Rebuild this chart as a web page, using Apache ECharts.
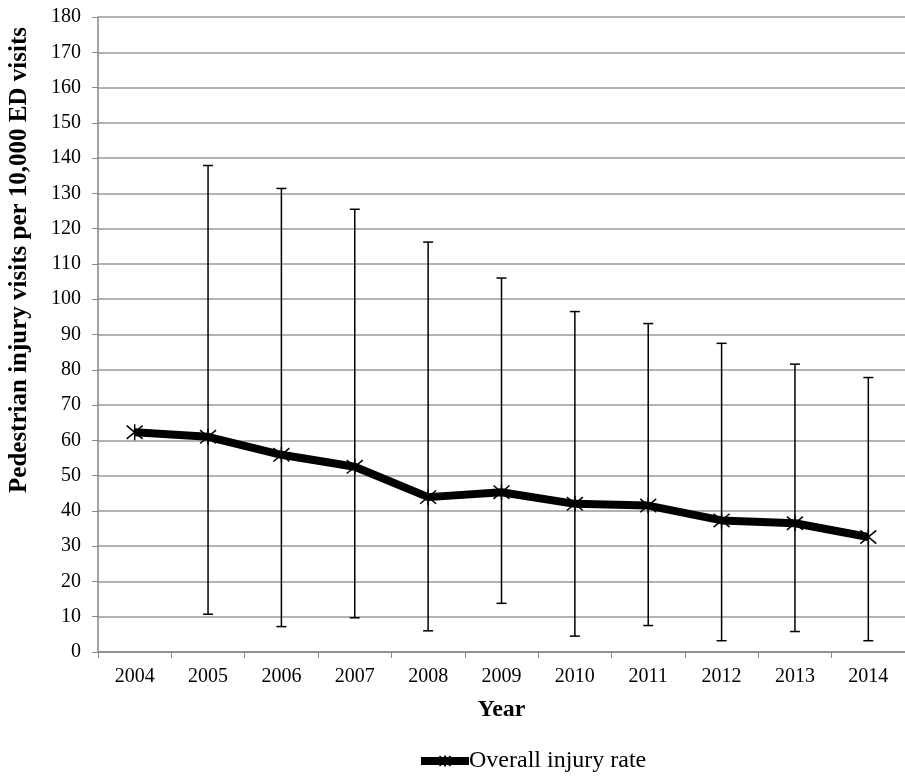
<!DOCTYPE html>
<html><head><meta charset="utf-8">
<script src="https://cdn.jsdelivr.net/npm/echarts@6/dist/echarts.min.js"></script>
<style>html,body{margin:0;padding:0;background:#fff}#c{width:905px;height:776px}</style>
</head><body><div id="c"></div>
<script>
const years = ['2004','2005','2006','2007','2008','2009','2010','2011','2012','2013','2014'];
const rate = [62.3, 61.0, 55.9, 52.5, 43.9, 45.3, 42.0, 41.5, 37.3, 36.5, 32.6];
const upper = [null, 137.9, 131.4, 125.5, 116.2, 106.0, 96.5, 93.1, 87.5, 81.6, 77.8];
const lower = [null, 10.7, 7.2, 9.7, 6.0, 13.8, 4.5, 7.5, 3.2, 5.8, 3.2];
const yName = 'Pedestrian injury visits per 10,000 ED visits';
const xName = 'Year';
const seriesName = 'Overall injury rate';

const errData = years.map((y, i) => [i, lower[i], upper[i]]).filter(d => d[1] != null);
const font = '"Liberation Serif", "Times New Roman", serif';
const chart = echarts.init(document.getElementById('c'));
chart.setOption({
  animation: false,
  grid: { left: 98, right: 0, top: 17, bottom: 124, containLabel: false },
  graphic: [{
    type: 'text', x: 20, y: 260, rotation: Math.PI / 2,
    style: { text: yName, font: 'bold 25px ' + font, fill: '#000', align: 'center', verticalAlign: 'middle' }
  }],
  legend: {
    data: [seriesName], top: 744, left: 412,
    itemWidth: 48, itemHeight: 14,
    lineStyle: { width: 8 },
    textStyle: { fontFamily: font, fontSize: 24, color: '#000', padding: [0,0,0,-5] }
  },
  xAxis: {
    type: 'category', data: years, boundaryGap: true,
    name: xName, nameLocation: 'middle', nameGap: 46,
    nameTextStyle: { fontFamily: font, fontSize: 24, fontWeight: 'bold', color: '#000' },
    axisLine: { lineStyle: { color: '#888', width: 1.5 } },
    axisTick: { show: true, alignWithLabel: false, length: 6, lineStyle: { color: '#888' } },
    axisLabel: { fontFamily: font, fontSize: 20, color: '#000', margin: 15 }
  },
  yAxis: {
    type: 'value', min: 0, max: 180, interval: 10,
    axisLine: { show: true, lineStyle: { color: '#888', width: 1.5 } },
    axisTick: { show: true, length: 6, lineStyle: { color: '#888' } },
    axisLabel: { fontFamily: font, fontSize: 20, color: '#000', margin: 17 },
    splitLine: { lineStyle: { color: '#999', width: 1.5 } }
  },
  series: [
    {
      type: 'custom', name: 'CI', z: 1,
      data: errData,
      renderItem: function (params, api) {
        const x = api.value(0);
        const lo = api.coord([x, api.value(1)]);
        const hi = api.coord([x, api.value(2)]);
        const w = 5;
        const st = { stroke: '#000', lineWidth: 1.5 };
        return { type: 'group', children: [
          { type: 'line', shape: { x1: lo[0], y1: lo[1], x2: hi[0], y2: hi[1] }, style: st },
          { type: 'line', shape: { x1: lo[0]-w, y1: lo[1], x2: lo[0]+w, y2: lo[1] }, style: st },
          { type: 'line', shape: { x1: hi[0]-w, y1: hi[1], x2: hi[0]+w, y2: hi[1] }, style: st }
        ]};
      }
    },
    {
      type: 'line', name: seriesName, data: rate, z: 3,
      lineStyle: { color: '#000', width: 8 },
      symbol: 'path://M0,0L10,10M10,0L0,10M5,-1L5,11',
      symbolSize: 16,
      itemStyle: { color: '#000', borderColor: '#000', borderWidth: 1.5 }
    }
  ]
});
</script></body></html>
